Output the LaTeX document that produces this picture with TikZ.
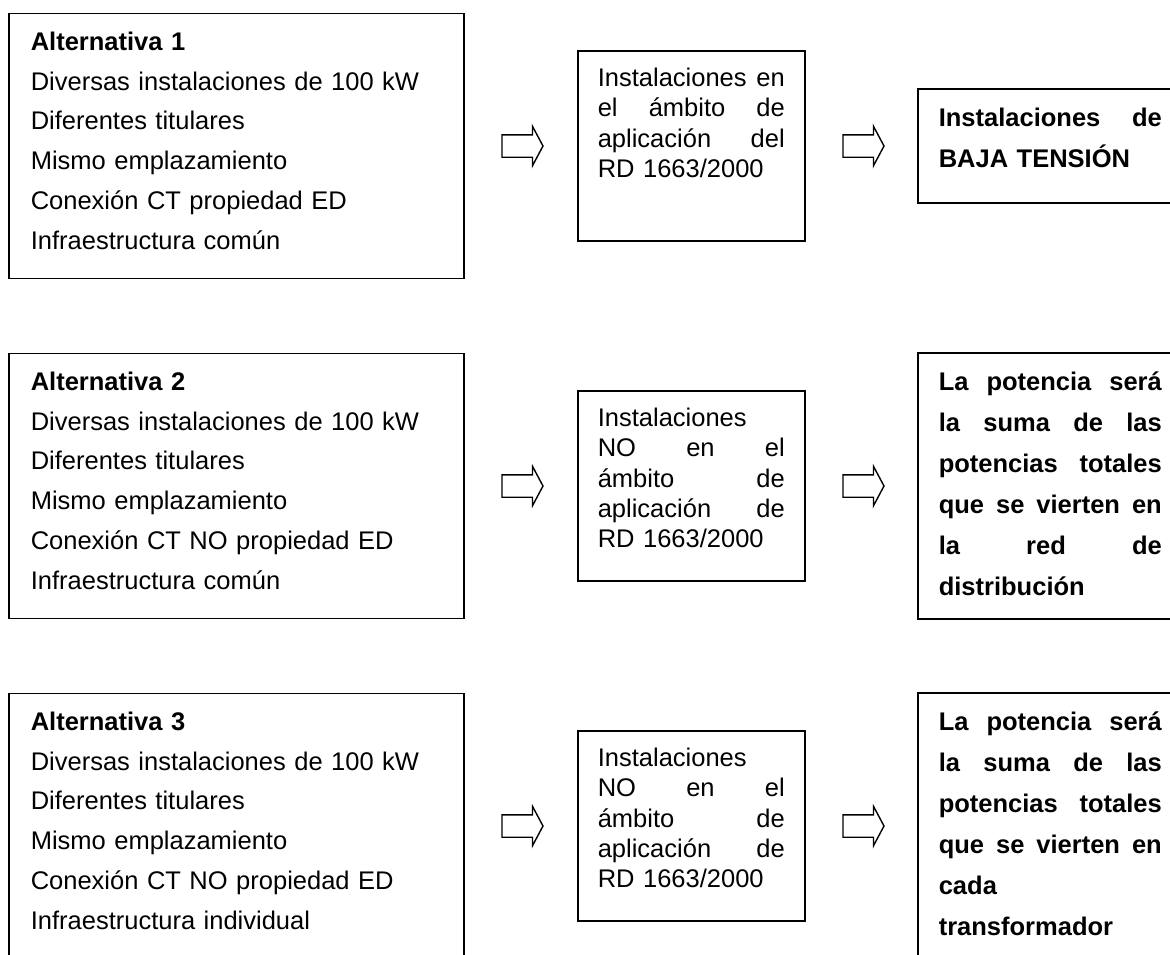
\documentclass[tikz,border=0pt]{standalone}
\usepackage{fontspec}
\setmainfont{Liberation Sans}
\usepackage{tikz}
\usetikzlibrary{positioning,shapes.arrows}
% text widths of the middle and right boxes
\newlength{\wamb}\setlength{\wamb}{93.5pt}
\newlength{\wres}\setlength{\wres}{111.5pt}
% justified line of a box
\newcommand{\jl}[2][\wamb]{\makebox[#1][s]{\spaceskip=0.278em plus 1fil\relax #2}}
\tikzset{
  every node/.style={font=\fontsize{12.75}{20}\selectfont},
  % --- boxes
  caja/.style = {draw=black, line width=0.8pt, anchor=west, inner ysep=0pt, align=left},
  alt/.style  = {caja, inner xsep=11pt, text width=205.5pt, text height=18.5pt, text depth=114pt,
                 font=\fontsize{12.75}{19.85}\selectfont},
  amb/.style  = {caja, inner xsep=10pt, text width=\wamb, text height=17.75pt, text depth=77.25pt,
                 font=\fontsize{12.75}{15.15}\selectfont},
  res/.style  = {caja, inner xsep=10.5pt, text width=\wres, text height=18.5pt, text depth=114.5pt,
                 font=\fontsize{12.75}{20.5}\selectfont\bfseries},
  % --- arrows
  flecha/.style = {single arrow, draw=black, line width=0.7pt, inner xsep=0pt, inner ysep=5.25pt,
                   minimum height=20.5pt, single arrow head extend=4.25pt, single arrow tip angle=124},
}
\begin{document}
\begin{tikzpicture}[x=0.5pt,y=-0.5pt]
  \fill[white] (0,0) rectangle (1170,954);
  \useasboundingbox (0,0) rectangle (1170,954);
  \clip (0,0) rectangle (1170,954);
  % fila 1
  \node[alt] (alt1) at (8,146) {\textbf{Alternativa 1}\\Diversas instalaciones de 100 kW\\Diferentes titulares\\
    Mismo emplazamiento\\Conexión CT propiedad ED\\Infraestructura común};
  \node[amb] (amb1) at (577,146) {\jl{Instalaciones en}\\\jl{el ámbito de}\\\jl{aplicación del}\\RD 1663/2000};
  \node[res, text depth=38.5pt] (res1) at (917,146) {\jl[\wres]{Instalaciones de}\\BAJA TENSIÓN};
  % fila 2
  \node[alt] (alt2) at (8,486) {\textbf{Alternativa 2}\\Diversas instalaciones de 100 kW\\Diferentes titulares\\
    Mismo emplazamiento\\Conexión CT NO propiedad ED\\Infraestructura común};
  \node[amb] (amb2) at (577,486) {Instalaciones\\\jl{NO en el}\\\jl{ámbito de}\\\jl{aplicación de}\\RD 1663/2000};
  \node[res] (res2) at (917,486) {\jl[\wres]{La potencia será}\\\jl[\wres]{la suma de las}\\
    \jl[\wres]{potencias totales}\\\jl[\wres]{que se vierten en}\\\jl[\wres]{la red de}\\distribución};
  % fila 3
  \node[alt] (alt3) at (8,826) {\textbf{Alternativa 3}\\Diversas instalaciones de 100 kW\\Diferentes titulares\\
    Mismo emplazamiento\\Conexión CT NO propiedad ED\\Infraestructura individual};
  \node[amb] (amb3) at (577,826) {Instalaciones\\\jl{NO en el}\\\jl{ámbito de}\\\jl{aplicación de}\\RD 1663/2000};
  \node[res] (res3) at (917,826) {\jl[\wres]{La potencia será}\\\jl[\wres]{la suma de las}\\
    \jl[\wres]{potencias totales}\\\jl[\wres]{que se vierten en}\\cada\\transformador};
  % flechas
  \foreach \f/\y in {1/146,2/486,3/826}{
    \node[flecha] (fa\f) at (519.5,\y) {};
    \node[flecha] (fb\f) at (860.5,\y) {};
  }
\end{tikzpicture}
\end{document}
